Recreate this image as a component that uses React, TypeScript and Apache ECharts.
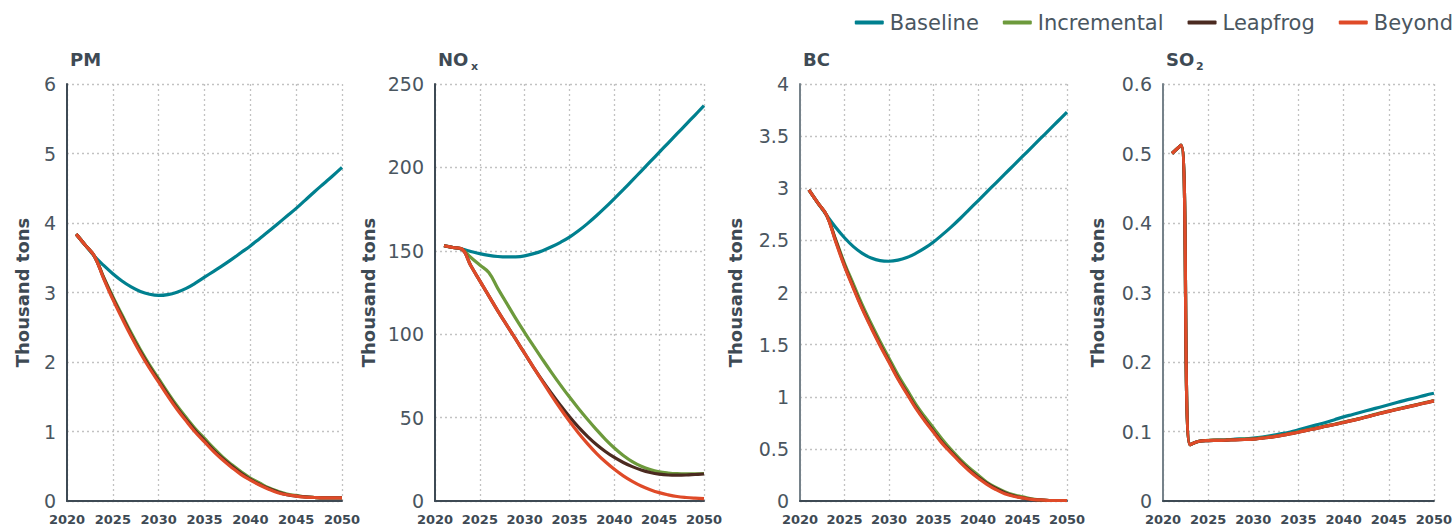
import React, { useEffect, useRef } from "react";
import * as echarts from "echarts";

const YEARS = [2021, 2022, 2023, 2024, 2025, 2026, 2027, 2028, 2029, 2030, 2031, 2032, 2033, 2034, 2035, 2036, 2037, 2038, 2039, 2040, 2041, 2042, 2043, 2044, 2045, 2046, 2047, 2048, 2049, 2050];
const X_TICKS = [2020, 2025, 2030, 2035, 2040, 2045, 2050];
const SCENARIOS = ["Baseline", "Incremental", "Leapfrog", "Beyond"];
const COLORS = ["#00808f", "#6d9a3c", "#4b2a20", "#df4a28"];

const PM_BASELINE = [3.84, 3.68, 3.52, 3.39, 3.27, 3.165, 3.08, 3.015, 2.975, 2.958, 2.97, 3.005, 3.06, 3.135, 3.22, 3.305, 3.39, 3.48, 3.575, 3.67, 3.775, 3.88, 3.99, 4.1, 4.21, 4.33, 4.45, 4.565, 4.68, 4.8];
const PM_INCREMENTAL = [3.84, 3.68, 3.52, 3.22, 2.94, 2.68, 2.42, 2.18, 1.96, 1.76, 1.56, 1.37, 1.2, 1.04, 0.9, 0.76, 0.63, 0.52, 0.42, 0.33, 0.26, 0.19, 0.14, 0.1, 0.08, 0.06, 0.05, 0.045, 0.045, 0.045];
const PM_LEAPFROG = [3.84, 3.68, 3.52, 3.21, 2.92, 2.65, 2.39, 2.15, 1.93, 1.73, 1.53, 1.34, 1.17, 1.01, 0.87, 0.73, 0.61, 0.5, 0.4, 0.31, 0.24, 0.18, 0.13, 0.09, 0.07, 0.06, 0.05, 0.045, 0.045, 0.045];
const PM_BEYOND = [3.84, 3.68, 3.52, 3.2, 2.9, 2.63, 2.37, 2.13, 1.91, 1.71, 1.51, 1.32, 1.15, 0.99, 0.85, 0.71, 0.59, 0.48, 0.38, 0.3, 0.23, 0.17, 0.12, 0.09, 0.07, 0.055, 0.05, 0.045, 0.045, 0.045];

const NOX_BASELINE = [153, 152, 151, 149.6, 148.3, 147.3, 146.6, 146.3, 146.4, 147, 148.3, 150.1, 152.4, 155.1, 158.2, 162, 166.3, 171, 176, 181.3, 186.7, 192.2, 197.8, 203.4, 209, 214.6, 220.2, 225.8, 231.4, 237];
const NOX_INCREMENTAL = [153, 152, 151, 146, 141.5, 137, 127.5, 118.5, 109.5, 101, 92.8, 84.8, 77, 69.5, 62.3, 55.5, 49, 42.8, 37, 31.8, 27.3, 23.6, 20.8, 18.8, 17.5, 16.8, 16.4, 16.3, 16.3, 16.5];
const NOX_LEAPFROG = [153, 152, 151, 141, 132, 123, 114, 105.5, 97, 88.5, 80, 72, 64.5, 57.3, 50.5, 44.3, 38.8, 33.9, 29.7, 26.1, 23.1, 20.6, 18.6, 17.1, 16.1, 15.6, 15.5, 15.6, 15.9, 16.2];
const NOX_BEYOND = [153, 152, 151, 141, 132, 123, 114, 105.5, 97, 88.5, 80, 71.5, 63.2, 55.3, 47.8, 40.8, 34.4, 28.6, 23.5, 19, 15.1, 11.8, 9, 6.8, 5, 3.7, 2.7, 2.1, 1.7, 1.4];

const BC_BASELINE = [2.985, 2.86, 2.74, 2.625, 2.525, 2.44, 2.375, 2.33, 2.305, 2.3, 2.31, 2.335, 2.375, 2.425, 2.485, 2.555, 2.63, 2.71, 2.795, 2.88, 2.965, 3.05, 3.135, 3.22, 3.305, 3.39, 3.475, 3.56, 3.645, 3.73];
const BC_INCREMENTAL = [2.985, 2.86, 2.74, 2.51, 2.28, 2.08, 1.88, 1.7, 1.53, 1.37, 1.21, 1.07, 0.93, 0.81, 0.7, 0.59, 0.49, 0.4, 0.32, 0.25, 0.18, 0.13, 0.09, 0.06, 0.04, 0.02, 0.01, 0.005, 0.005, 0.005];
const BC_LEAPFROG = [2.985, 2.86, 2.74, 2.5, 2.26, 2.05, 1.85, 1.67, 1.5, 1.34, 1.18, 1.04, 0.9, 0.78, 0.67, 0.56, 0.47, 0.38, 0.3, 0.23, 0.17, 0.12, 0.08, 0.05, 0.03, 0.015, 0.01, 0.005, 0.005, 0.005];
const BC_BEYOND = [2.985, 2.86, 2.74, 2.49, 2.25, 2.04, 1.84, 1.66, 1.49, 1.33, 1.17, 1.03, 0.89, 0.77, 0.66, 0.55, 0.46, 0.37, 0.29, 0.22, 0.16, 0.11, 0.07, 0.045, 0.03, 0.015, 0.01, 0.005, 0.005, 0.005];

const SO2_BASELINE = [0.5, 0.512, 0.081, 0.086, 0.087, 0.0875, 0.088, 0.089, 0.0895, 0.0905, 0.092, 0.094, 0.0965, 0.099, 0.1025, 0.106, 0.1095, 0.113, 0.117, 0.121, 0.1245, 0.128, 0.1315, 0.135, 0.1385, 0.142, 0.1455, 0.1485, 0.152, 0.155];
const SO2_INCREMENTAL = [0.5, 0.512, 0.081, 0.086, 0.0872, 0.0876, 0.088, 0.0885, 0.089, 0.0895, 0.091, 0.0925, 0.0945, 0.097, 0.0995, 0.1025, 0.105, 0.108, 0.1105, 0.1135, 0.1165, 0.1195, 0.123, 0.1265, 0.1295, 0.1325, 0.1355, 0.1385, 0.1415, 0.1445];
const SO2_LEAPFROG = [0.5, 0.512, 0.081, 0.086, 0.087, 0.0872, 0.0875, 0.088, 0.0885, 0.089, 0.0905, 0.092, 0.094, 0.0965, 0.099, 0.102, 0.1045, 0.1075, 0.11, 0.113, 0.116, 0.119, 0.1225, 0.126, 0.129, 0.132, 0.135, 0.138, 0.141, 0.144];
const SO2_BEYOND = [0.5, 0.512, 0.081, 0.086, 0.087, 0.0872, 0.0875, 0.088, 0.0885, 0.089, 0.0905, 0.092, 0.094, 0.0965, 0.099, 0.102, 0.1045, 0.1075, 0.11, 0.113, 0.116, 0.119, 0.1225, 0.126, 0.129, 0.132, 0.135, 0.138, 0.141, 0.144];

const PM_Y_MAX = 6, PM_Y_STEP = 1;
const NOX_Y_MAX = 250, NOX_Y_STEP = 50;
const BC_Y_MAX = 4, BC_Y_STEP = 0.5;
const SO2_Y_MAX = 0.6, SO2_Y_STEP = 0.1;

const FONT = "DejaVu Sans";
const TEXT = "#3e4a54";

const PANELS = [
  { title: "PM", sub: "", subDx: 0, series: [PM_BASELINE, PM_INCREMENTAL, PM_LEAPFROG, PM_BEYOND], max: PM_Y_MAX, step: PM_Y_STEP, left: 67, width: 275, axis: "#3e4a54", nameGap: 36 },
  { title: "NO", sub: "x", subDx: 33, series: [NOX_BASELINE, NOX_INCREMENTAL, NOX_LEAPFROG, NOX_BEYOND], max: NOX_Y_MAX, step: NOX_Y_STEP, left: 435, width: 269, axis: "#3e4a54", nameGap: 58 },
  { title: "BC", sub: "", subDx: 0, series: [BC_BASELINE, BC_INCREMENTAL, BC_LEAPFROG, BC_BEYOND], max: BC_Y_MAX, step: BC_Y_STEP, left: 800, width: 267, axis: "#76828a", nameGap: 56 },
  { title: "SO", sub: "2", subDx: 30, series: [SO2_BASELINE, SO2_INCREMENTAL, SO2_LEAPFROG, SO2_BEYOND], max: SO2_Y_MAX, step: SO2_Y_STEP, left: 1163, width: 273, axis: "#76828a", nameGap: 57 },
];

const TOP = 84;
const HEIGHT = 417;

export default function App() {
  const ref = useRef<HTMLDivElement>(null);
  useEffect(() => {
    document.body.style.margin = "0";
    if (!ref.current) return;
    const chart = echarts.init(ref.current, null, { renderer: "svg" });
    const grids: any[] = [];
    const xAxes: any[] = [];
    const yAxes: any[] = [];
    const series: any[] = [];
    const graphics: any[] = [];
    const split = { show: true, lineStyle: { color: "#c2c2c2", width: 1.3, type: [2, 3] } };
    PANELS.forEach((p, i) => {
      grids.push({ left: p.left, top: TOP, width: p.width, height: HEIGHT, containLabel: false });
      xAxes.push({
        type: "value", gridIndex: i, min: X_TICKS[0], max: X_TICKS[X_TICKS.length - 1], interval: 5,
        axisLine: { show: true, lineStyle: { color: "#3e4a54", width: 2 } },
        axisTick: { show: false },
        axisLabel: { color: TEXT, fontFamily: FONT, fontSize: 13, fontWeight: "bold", margin: 12, formatter: (v: number) => String(v) },
        splitLine: split,
      });
      yAxes.push({
        type: "value", gridIndex: i, min: 0, max: p.max, interval: p.step,
        name: "Thousand tons", nameLocation: "middle", nameRotate: 90, nameGap: p.nameGap,
        nameTextStyle: { color: TEXT, fontFamily: FONT, fontSize: 18, fontWeight: "bold" },
        axisLine: { show: true, lineStyle: { color: p.axis, width: 2 } },
        axisTick: { show: false },
        axisLabel: { color: "#4a565f", fontFamily: FONT, fontSize: 19, margin: 11, formatter: (v: number) => String(+v.toFixed(2)) },
        splitLine: split,
      });
      p.series.forEach((vals, k) => {
        series.push({
          type: "line", name: SCENARIOS[k], xAxisIndex: i, yAxisIndex: i,
          data: YEARS.map((y, j) => [y, vals[j]]),
          showSymbol: false, symbol: "none", smooth: 0.4,
          lineStyle: { color: COLORS[k], width: 3.2 }, itemStyle: { color: COLORS[k] },
          z: 2 + k,
        });
      });
      graphics.push({
        type: "text", left: p.left + 3, top: 50,
        style: { text: p.title, font: `bold 18px '${FONT}'`, fill: TEXT },
      });
      if (p.sub) {
        graphics.push({
          type: "text", left: p.left + 3 + p.subDx, top: 61,
          style: { text: p.sub, font: `bold 11px '${FONT}'`, fill: TEXT },
        });
      }
    });
    chart.setOption({
      animation: false,
      backgroundColor: "#ffffff",
      legend: {
        data: SCENARIOS, right: 2, top: 12, padding: 0, icon: "roundRect", itemWidth: 29, itemHeight: 4, itemGap: 24,
        textStyle: { color: "#4a565f", fontFamily: FONT, fontSize: 21, padding: [0, 0, 0, 1] },
      },
      grid: grids, xAxis: xAxes, yAxis: yAxes, series, graphic: graphics,
    });
    return () => chart.dispose();
  }, []);
  return <div ref={ref} style={{ position: "fixed", left: 0, top: 0, width: 1455, height: 526 }} />;
}
